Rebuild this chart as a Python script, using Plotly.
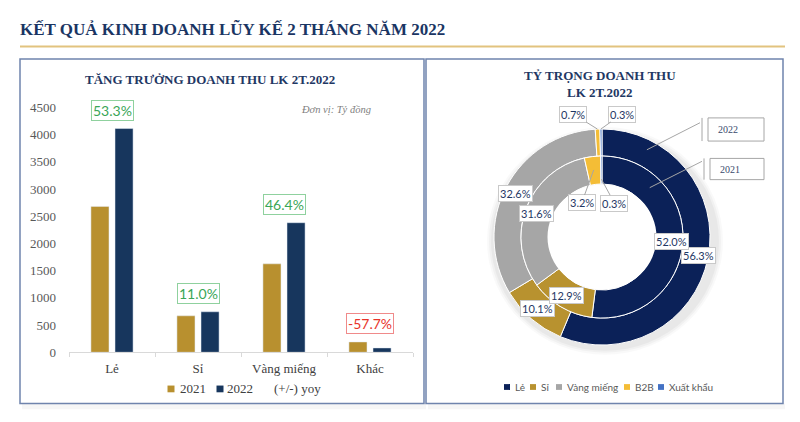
import math
import plotly.graph_objects as go

W, H = 800, 422

# ---------------- data ----------------
categories = ["Lẻ", "Sỉ", "Vàng miếng", "Khác"]
rev_2021 = [2680, 670, 1625, 190]
rev_2022 = [4110, 744, 2380, 80]
yoy_labels = ["53.3%", "11.0%", "46.4%", "-57.7%"]
yoy_values = [53.3, 11.0, 46.4, -57.7]
y_ticks = [0, 500, 1000, 1500, 2000, 2500, 3000, 3500, 4000, 4500]

segments = ["Lẻ", "Sỉ", "Vàng miếng", "B2B", "Xuất khẩu"]
share_2022 = [56.3, 10.1, 32.6, 0.7, 0.3]
share_2021 = [52.0, 12.9, 31.6, 3.2, 0.3]
share_labels_2022 = ["56.3%", "10.1%", "32.6%", "0.7%", "0.3%"]
share_labels_2021 = ["52.0%", "12.9%", "31.6%", "3.2%", "0.3%"]

# ---------------- styles ----------------
C21 = "#b8902f"
C22 = "#17365d"
seg_colors = ["#0b2158", "#b8922f", "#a6a6a6", "#f4bd36", "#4472c4"]
NAVY_T = "#1f3864"
SERIF = "Liberation Serif, Times New Roman, serif"
SANS = "Lato, Liberation Sans, sans-serif"


def px(x):
    return x / W


def py(y):
    return 1 - y / H


def note(x, y, text, font, xanchor="center", **kw):
    d = dict(x=px(x), y=py(y), xref="paper", yref="paper", xanchor=xanchor,
             yanchor="middle", showarrow=False, text=text, font=font)
    d.update(kw)
    return d


fig = go.Figure()

# ---------------- bar chart ----------------
fig.add_trace(go.Bar(x=categories, y=rev_2021, name="2021", marker_color=C21,
                     xaxis="x", yaxis="y", showlegend=False))
fig.add_trace(go.Bar(x=categories, y=rev_2022, name="2022", marker_color=C22,
                     xaxis="x", yaxis="y", showlegend=False))

# ---------------- donut ----------------
CX, CY = 602, 238.5
R_OUT, R_MID, R_IN = 112, 84, 55

fig.add_trace(go.Pie(
    labels=segments, values=share_2022, sort=False, direction="clockwise",
    rotation=0, hole=R_MID / R_OUT, textinfo="none", showlegend=False,
    marker=dict(colors=seg_colors, line=dict(color="white", width=1)),
    domain=dict(x=[px(CX - R_OUT), px(CX + R_OUT)], y=[py(CY + R_OUT), py(CY - R_OUT)]),
    name="2022"))
fig.add_trace(go.Pie(
    labels=segments, values=share_2021, sort=False, direction="clockwise",
    rotation=0, hole=R_IN / R_MID, textinfo="none", showlegend=False,
    marker=dict(colors=seg_colors, line=dict(color="white", width=1)),
    domain=dict(x=[px(CX - R_MID), px(CX + R_MID)], y=[py(CY + R_MID), py(CY - R_MID)]),
    name="2021"))

annotations = []
shapes = []

# main title
annotations.append(note(18, 23, "<b>KẾT QUẢ KINH DOANH LŨY KẾ 2 THÁNG NĂM 2022</b>",
                        dict(family=SERIF, size=17, color="#1a3563"), xanchor="left"))
shapes.append(dict(type="line", xref="paper", yref="paper", x0=px(20), x1=px(785),
                   y0=py(41), y1=py(41), line=dict(color="#e2c37f", width=2)))

# soft shadow around the donut
for k, op in [(6, 0.025), (4, 0.03), (2, 0.035)]:
    shapes.append(dict(type="circle", xref="paper", yref="paper", layer="below",
                       x0=px(CX - R_OUT - k + 3), x1=px(CX + R_OUT + k + 3),
                       y0=py(CY + R_OUT + k + 4), y1=py(CY - R_OUT - k + 4),
                       fillcolor="rgba(0,0,0,%s)" % op, line=dict(width=0)))
# keep the donut hole white
shapes.append(dict(type="circle", xref="paper", yref="paper", layer="above",
                   x0=px(CX - R_IN + 0.5), x1=px(CX + R_IN - 0.5),
                   y0=py(CY + R_IN - 0.5), y1=py(CY - R_IN + 0.5),
                   fillcolor="white", line=dict(width=0)))

# panels (shadow + border)
for x0, x1 in [(20, 424), (426, 783)]:
    shapes.append(dict(type="rect", xref="paper", yref="paper", x0=px(x0 + 2), x1=px(x1 + 2),
                       y0=py(417), y1=py(411), fillcolor="rgba(0,0,0,0.035)",
                       line=dict(width=0), layer="below"))
    shapes.append(dict(type="rect", xref="paper", yref="paper", x0=px(x0), x1=px(x1),
                       y0=py(411), y1=py(54), line=dict(color="#6f84ad", width=1.5),
                       layer="below"))

# bar chart titles / notes
annotations.append(note(210, 75, "<b>TĂNG TRƯỞNG DOANH THU LK 2T.2022</b>",
                        dict(family=SERIF, size=13, color=NAVY_T)))
annotations.append(note(336, 107, "<i>Đơn vị: Tỷ đồng</i>",
                        dict(family=SERIF, size=10.5, color="#808080")))

# yoy growth boxes
for cat, a, b, lab, v in zip(categories, rev_2021, rev_2022, yoy_labels, yoy_values):
    pos = v >= 0
    annotations.append(dict(x=cat, y=max(a, b), xref="x", yref="y", showarrow=False,
                            xanchor="center", yanchor="middle", yshift=18, text=lab,
                            font=dict(family=SANS, size=14, color="#3aa657" if pos else "#e8332a"),
                            bgcolor="white", bordercolor="#8fd19e" if pos else "#f08a8a",
                            borderwidth=1, borderpad=1))

# bar legend (manual)
for cx_, col, lab, tx in [(171, C21, "2021", 178), (220, C22, "2022", 225), (None, None, "(+/-) yoy", 272)]:
    if col:
        shapes.append(dict(type="rect", xref="paper", yref="paper", x0=px(cx_ - 3.5), x1=px(cx_ + 3.5),
                           y0=py(399.5), y1=py(392.5), fillcolor=col, line=dict(width=0)))
    annotations.append(note(tx, 396, lab, dict(family=SERIF, size=13, color="#404040"),
                            xanchor="left"))

# pie title
annotations.append(note(600, 80, "<b>TỶ TRỌNG DOANH THU<br>LK 2T.2022</b>",
                        dict(family=SERIF, size=13, color=NAVY_T)))


def ring_point(cum, share, r):
    ang = math.radians((cum + share / 2) / 100 * 360)
    return CX + r * math.sin(ang), CY - r * math.cos(ang)


# label placement for small slices: (point radius, ax, ay)
small_2022 = {3: (112, -24, -15), 4: (112, 21, -15)}
small_2021 = {3: (70, -12, 33), 4: (60, 13, 24)}

for shares, labs, rmid, small in [(share_2022, share_labels_2022, 98, small_2022),
                                  (share_2021, share_labels_2021, 70, small_2021)]:
    cum = 0
    for i, (s, lab) in enumerate(zip(shares, labs)):
        box = dict(bgcolor="white", bordercolor="#c9c9c9", borderwidth=1, borderpad=1,
                   font=dict(family=SANS, size=11, color=NAVY_T), text=lab,
                   xref="paper", yref="paper")
        if i in small:
            r, ax, ay = small[i]
            x, y = ring_point(cum, s, r)
            annotations.append(dict(x=px(x), y=py(y), showarrow=True, arrowhead=0, ax=ax, ay=ay,
                                    arrowcolor="#a6a6a6", arrowwidth=1, standoff=0, **box))
        else:
            x, y = ring_point(cum, s, rmid)
            annotations.append(dict(x=px(x), y=py(y), showarrow=False, xanchor="center",
                                    yanchor="middle", **box))
        cum += s

# year callouts
for lab, ang, r, lx, ly, bx0, bx1, by0, by1 in [
        ("2022", 26.4, 101, 700, 120, 708, 764, 115, 139),
        ("2021", 43.0, 70, 702, 160, 710, 764, 157, 179)]:
    sx = CX + r * math.sin(math.radians(ang))
    sy = CY - r * math.cos(math.radians(ang))
    shapes.append(dict(type="line", xref="paper", yref="paper", x0=px(sx), y0=py(sy),
                       x1=px(lx), y1=py(ly), line=dict(color="#a6a6a6", width=1)))
    shapes.append(dict(type="line", xref="paper", yref="paper", x0=px(bx0 - 6), x1=px(bx0 - 6),
                       y0=py(by0), y1=py(by1), line=dict(color="#a6a6a6", width=1)))
    shapes.append(dict(type="rect", xref="paper", yref="paper", x0=px(bx0), x1=px(bx1),
                       y0=py(by1), y1=py(by0), line=dict(color="#a6a6a6", width=1),
                       fillcolor="white"))
    annotations.append(note(bx0 + 8, (by0 + by1) / 2, lab,
                            dict(family=SERIF, size=10, color="#3a4a6b"), xanchor="left"))

# pie legend (manual)
for i, (seg, col, tx) in enumerate(zip(segments, seg_colors, [513, 539, 565, 633, 667])):
    sq = tx - 6
    shapes.append(dict(type="rect", xref="paper", yref="paper", x0=px(sq - 3), x1=px(sq + 3),
                       y0=py(397), y1=py(391), fillcolor=col, line=dict(width=0)))
    annotations.append(note(tx, 394, seg, dict(family=SANS, size=10, color="#595959"),
                            xanchor="left"))

fig.update_layout(
    width=W, height=H, autosize=False,
    margin=dict(l=0, r=0, t=0, b=0),
    paper_bgcolor="white", plot_bgcolor="rgba(0,0,0,0)",
    barmode="group", bargap=0.44, bargroupgap=0.25,
    xaxis=dict(domain=[px(69), px(413)], anchor="y", showline=True, linecolor="#d9d9d9",
               linewidth=1, ticks="outside", tickson="boundaries", ticklen=4,
               tickcolor="#d9d9d9", showgrid=False, ticklabelstandoff=4,
               tickfont=dict(family=SERIF, size=13, color="#404040")),
    yaxis=dict(domain=[py(358), py(104)], anchor="x", range=[0, 4500], tickvals=y_ticks,
               showgrid=False, zeroline=False, showline=False, ticklabelstandoff=12,
               tickfont=dict(family=SERIF, size=13, color="#595959")),
    annotations=annotations, shapes=shapes,
    showlegend=False,
)

fig.write_html("out.html", config={"responsive": False, "displayModeBar": False},
               post_script="document.body.style.margin='0';document.body.style.overflow='hidden';")
